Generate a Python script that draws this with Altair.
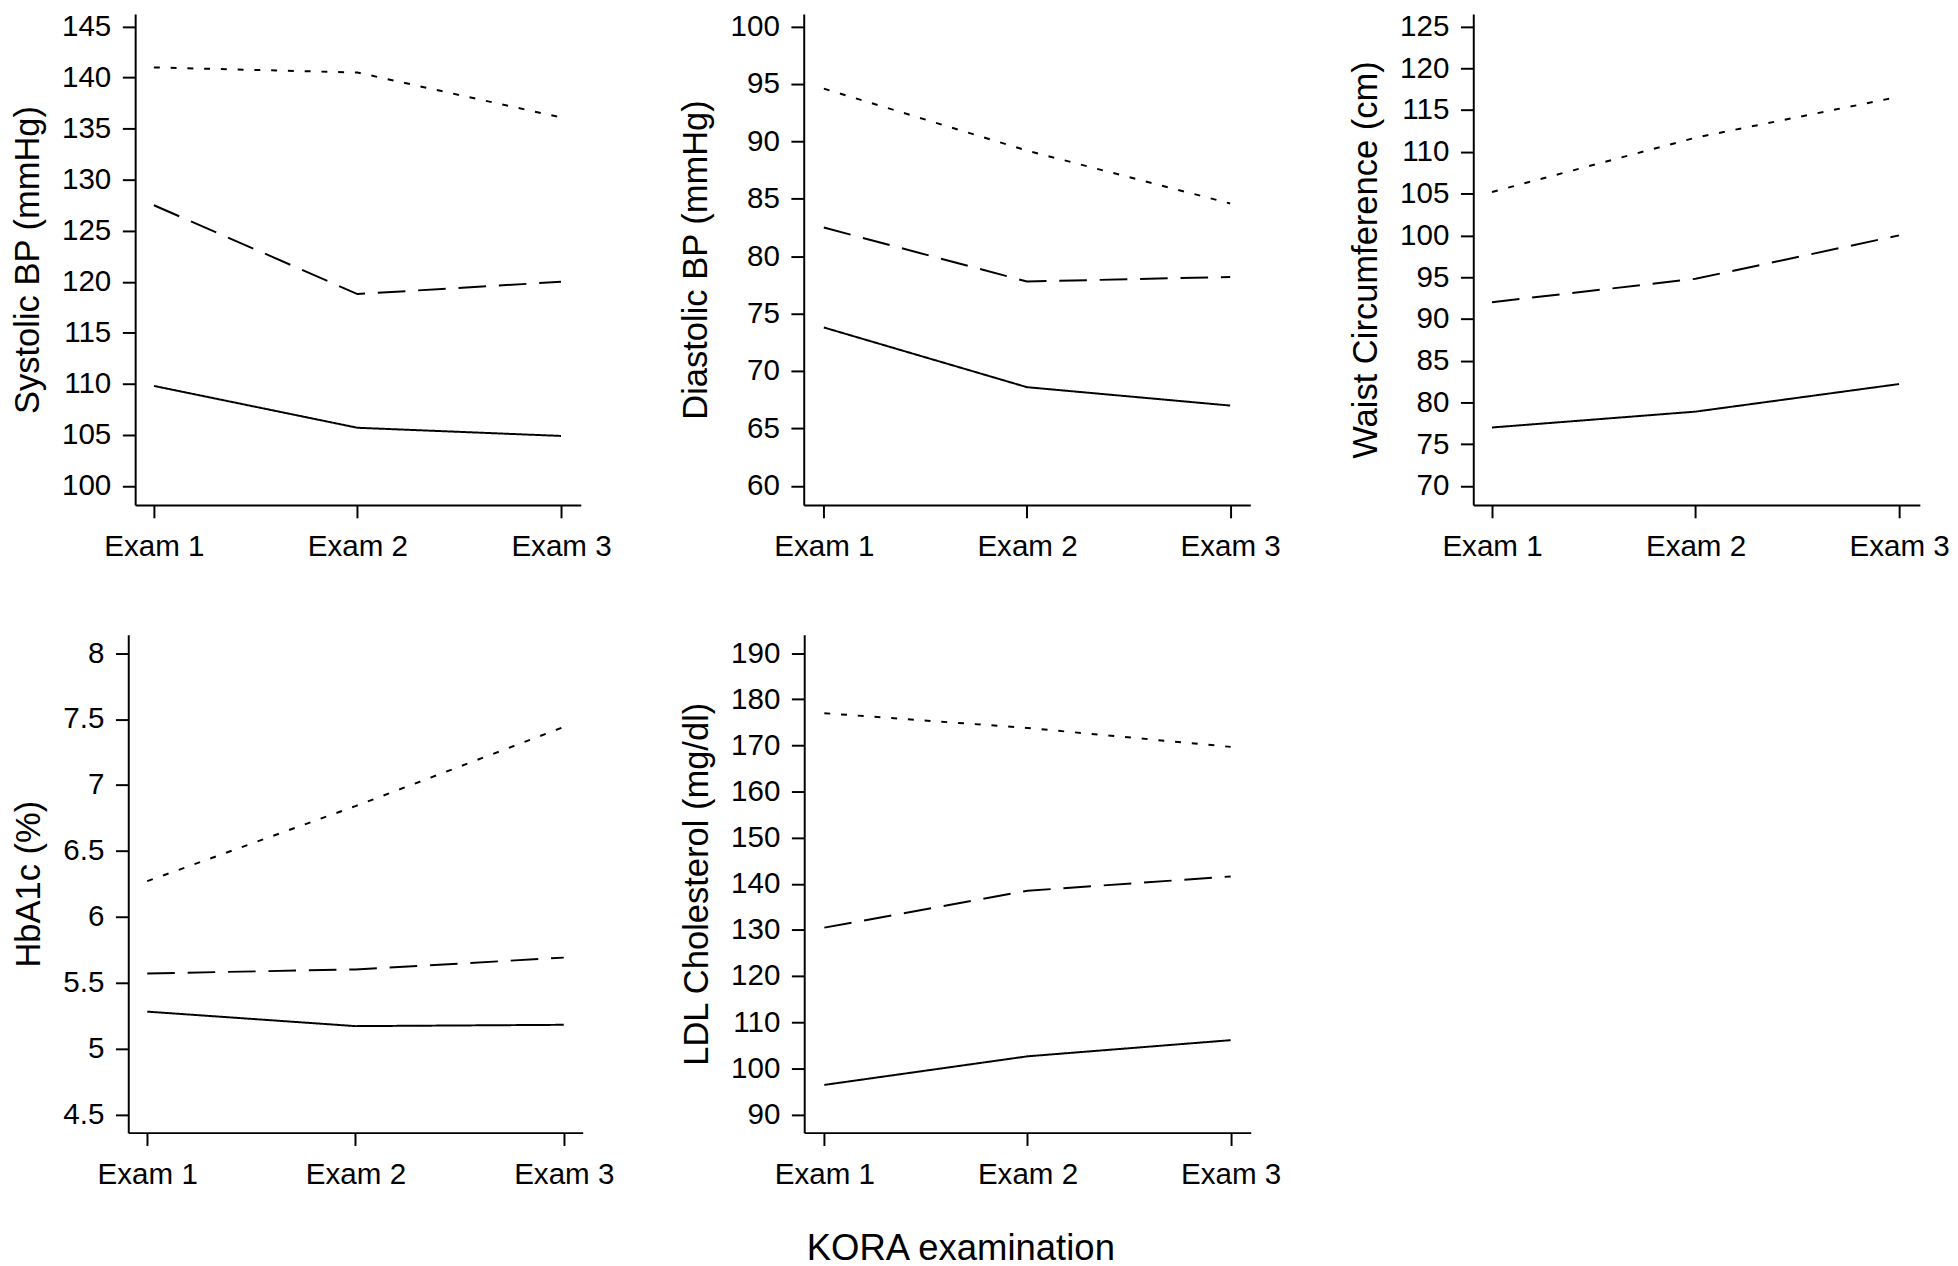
import altair as alt
import pandas as pd

FONT = "Liberation Sans"

EXAM = [1, 2, 3]
EXAM_LABELS = ["Exam 1", "Exam 2", "Exam 3"]
GROUPS = ["solid", "dashed", "dotted"]

SBP_SOLID = [109.8, 105.7, 104.9]
SBP_DASHED = [127.5, 118.8, 120.0]
SBP_DOTTED = [141.0, 140.5, 136.1]

DBP_SOLID = [73.8, 68.6, 67.0]
DBP_DASHED = [82.5, 77.8, 78.2]
DBP_DOTTED = [94.6, 89.2, 84.6]

WAIST_SOLID = [77.0, 78.9, 82.2]
WAIST_DASHED = [92.0, 94.8, 100.0]
WAIST_DOTTED = [105.2, 111.7, 116.6]

HBA1C_SOLID = [5.28, 5.17, 5.18]
HBA1C_DASHED = [5.57, 5.60, 5.69]
HBA1C_DOTTED = [6.27, 6.84, 7.44]

LDL_SOLID = [96.4, 102.6, 106.1]
LDL_DASHED = [130.5, 138.5, 141.6]
LDL_DOTTED = [177.0, 173.8, 169.7]

SBP_TICKS = [100, 105, 110, 115, 120, 125, 130, 135, 140, 145]
DBP_TICKS = [60, 65, 70, 75, 80, 85, 90, 95, 100]
WAIST_TICKS = [70, 75, 80, 85, 90, 95, 100, 105, 110, 115, 120, 125]
HBA1C_TICKS = [4.5, 5, 5.5, 6, 6.5, 7, 7.5, 8]
LDL_TICKS = [90, 100, 110, 120, 130, 140, 150, 160, 170, 180, 190]


def make_df(solid, dashed, dotted):
    rows = []
    for g, vals in zip(GROUPS, [solid, dashed, dotted]):
        for e, v in zip(EXAM, vals):
            rows.append({"exam": e, "group": g, "value": v})
    return pd.DataFrame(rows)


label_expr = "[" + ",".join("'%s'" % s for s in EXAM_LABELS) + "][datum.value - 1]"


def panel(df, title, ydom, yticks, w, h, xdom, yfmt="d"):
    return alt.Chart(df).mark_line(color="black", strokeWidth=2).encode(
        x=alt.X("exam:Q",
                scale=alt.Scale(domain=xdom, nice=False, zero=False),
                axis=alt.Axis(values=EXAM, labelExpr=label_expr, title=None, grid=False,
                              tickSize=13, labelPadding=14.5, labelOverlap=False,
                              labelFlush=False, labelBound=False)),
        y=alt.Y("value:Q",
                scale=alt.Scale(domain=ydom, nice=False, zero=False),
                axis=alt.Axis(values=yticks, format=yfmt, title=title, grid=False,
                              tickSize=13, labelPadding=11.7, labelOverlap=False,
                              labelFlush=False, labelBound=False, titlePadding=16.5)),
        strokeDash=alt.StrokeDash("group:N",
                                  scale=alt.Scale(domain=GROUPS, range=[[1, 0], [28, 13], [6, 11]]),
                                  legend=None),
        detail="group:N",
    ).properties(width=w, height=h)


def spacer(w):
    # invisible cell used only to left-align the rows by their outer bounds
    return alt.Chart(pd.DataFrame({"v": [0]})).mark_point(size=0, opacity=0).properties(width=w, height=1)


p1 = panel(make_df(SBP_SOLID, SBP_DASHED, SBP_DOTTED), "Systolic BP (mmHg)",
           [98.136, 146.226], SBP_TICKS, 452, 498, [0.908, 3.097])
p2 = panel(make_df(DBP_SOLID, DBP_DASHED, DBP_DOTTED), "Diastolic BP (mmHg)",
           [58.343, 101.09], DBP_TICKS, 453, 498, [0.901, 3.099])
p3 = panel(make_df(WAIST_SOLID, WAIST_DASHED, WAIST_DOTTED), "Waist Circumference (cm)",
           [67.722, 126.499], WAIST_TICKS, 453, 498, [0.908, 3.102])
p4 = panel(make_df(HBA1C_SOLID, HBA1C_DASHED, HBA1C_DOTTED), "HbA1c (%)",
           [4.3616, 8.14], HBA1C_TICKS, 461, 505, [0.909, 3.091], yfmt="~g")
p5 = panel(make_df(LDL_SOLID, LDL_DASHED, LDL_DOTTED), "LDL Cholesterol (mg/dl)",
           [86.05, 194.0], LDL_TICKS, 453, 505, [0.901, 3.099])

row1 = alt.hconcat(spacer(1.5), alt.hconcat(p1, p2, p3, spacing=68.2, bounds="full"),
                   spacing=0, bounds="full")
row2 = alt.hconcat(spacer(3.5), alt.hconcat(p4, p5, spacing=65.7, bounds="full"),
                   spacing=0, bounds="full")

chart = alt.ConcatChart(
    concat=[row1, row2], columns=1, spacing=73.7, bounds="full",
    padding={"left": 0, "top": -6, "right": 0, "bottom": 0},
    background="white",
    title=alt.TitleParams(text="KORA examination", orient="bottom", anchor="middle",
                          fontSize=37, font=FONT, fontWeight="normal", color="black",
                          baseline="top", offset=43, dx=-18),
).configure_view(stroke="transparent", strokeWidth=0).configure_axis(
    labelFont=FONT, titleFont=FONT, labelFontSize=30, titleFontSize=35,
    titleFontWeight="normal", labelColor="black", titleColor="black",
    domainColor="black", tickColor="black", domainWidth=2, tickWidth=2,
)

chart.save("out.html", embed_options={"renderer": "svg", "actions": False})
